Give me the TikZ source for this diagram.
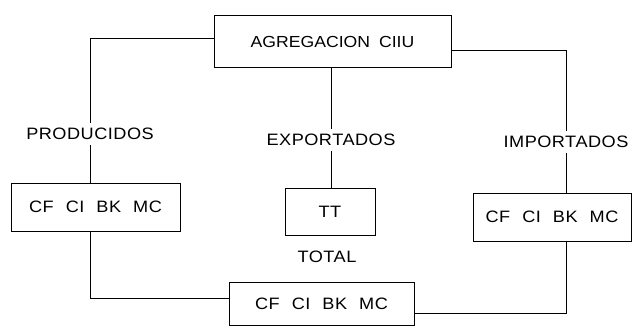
\documentclass[tikz,border=0pt]{standalone}
\usepackage{fontspec}
\setmainfont{Liberation Sans}[LetterSpace=3,FakeStretch=1.1]
\begin{document}
\begin{tikzpicture}[x=1pt,y=1pt,
  box/.style={draw,line width=0.9pt,minimum width=#1,inner sep=0pt},
  lbl/.style={inner sep=5pt},
  conn/.style={line width=0.9pt},
  font=\fontsize{16.5}{19}\selectfont]
\useasboundingbox (0,0) rectangle (632,327);
\newcommand{\gp}{\hspace{12pt}}
\node[box=237pt,minimum height=52pt,font=\fontsize{16}{19}\selectfont\addfontfeatures{LetterSpace=0}] (top) at (332.5,285.5) {AGREGACION\hspace{9pt}CIIU};
\node[box=169pt,minimum height=48pt] (left) at (95.5,120) {CF\gp CI\gp BK\gp MC};
\node[box=158pt,minimum height=48pt] (right) at (552,110) {CF\gp CI\gp BK\gp MC};
\node[box=90pt,minimum height=47pt] (tt) at (330,115.5) {TT};
\node[box=185pt,minimum height=43pt] (bot) at (321.5,23.5) {CF\gp CI\gp BK\gp MC};
\node[lbl] (prod) at (90,193) {PRODUCIDOS};
\node[lbl] (exp) at (331,187) {EXPORTADOS};
\node[lbl] (imp) at (566,185) {IMPORTADOS};
\node[lbl] (tot) at (327,70.5) {TOTAL};
\draw[conn] ([yshift=3pt]top.west) -| (prod.north);
\draw[conn] (prod.south) -- (prod.south |- left.north);
\draw[conn] (left.south -| prod.south) |- ([yshift=5.5pt]bot.west);
\draw[conn] (top.south -| exp.north) -- (exp.north);
\draw[conn] (exp.south) -- (exp.south |- tt.north);
\draw[conn] ([yshift=-8.5pt]top.east) -| (imp.north);
\draw[conn] (imp.south) -- (imp.south |- right.north);
\draw[conn] (right.south -| imp.south) |- ([yshift=-9.5pt]bot.east);
\end{tikzpicture}
\end{document}
